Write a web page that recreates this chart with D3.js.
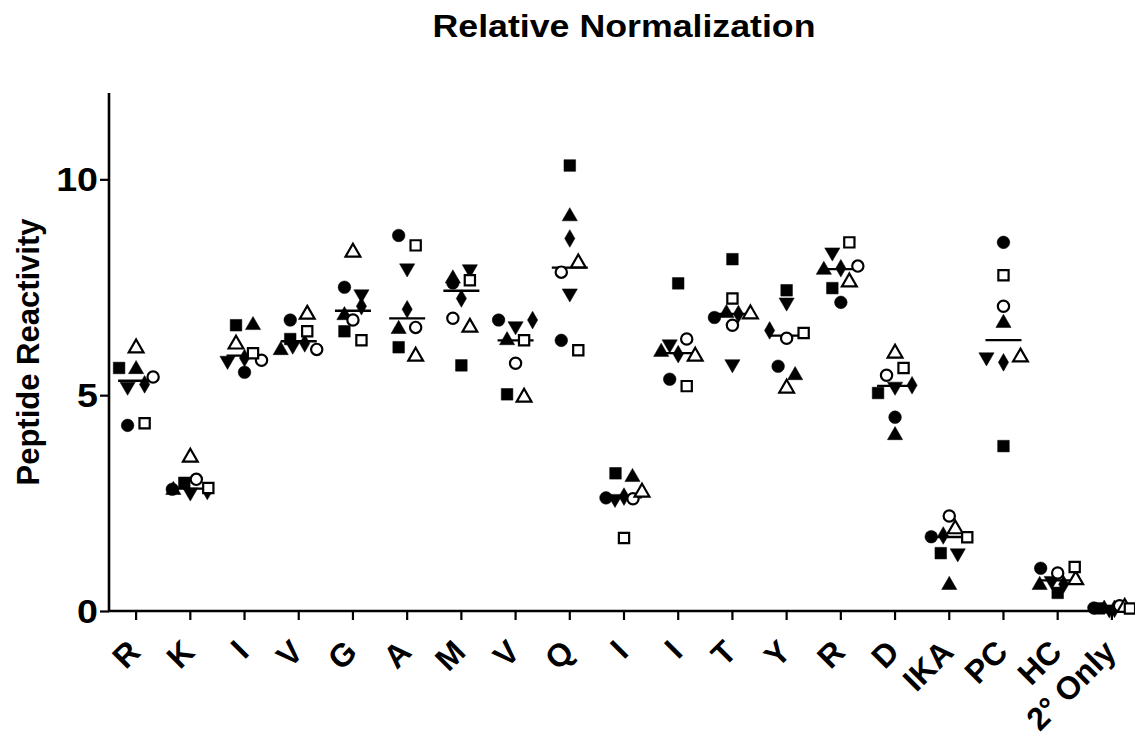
<!DOCTYPE html>
<html>
<head>
<meta charset="utf-8">
<script src="https://cdn.jsdelivr.net/npm/d3@7"></script>
<style>
  html, body { margin: 0; padding: 0; background: #fff; }
</style>
</head>
<body>
<svg id="chart" width="1135" height="738"></svg>
<script>
// ---- data ----
const categories = ["R","K","I","V","G","A","M","V","Q","I","I","T","Y","R","D","IKA","PC","HC","2° Only"];
const yTicks = [0, 5, 10];
const title = "Relative Normalization";
const yLabel = "Peptide Reactivity";

const filledSquare   = [5.63,2.97,6.62,6.30,6.48,6.11,5.69,5.02,10.32,3.19,7.59,8.15,7.43,7.48,5.05,1.34,3.82,0.42,0.06];
const filledTriangle = [5.60,2.80,6.62,6.04,6.85,6.53,7.70,6.27,9.14,3.10,6.00,6.90,5.46,7.90,4.07,0.60,6.67,0.60,0.05];
const filledDown     = [5.20,2.75,5.80,6.15,7.34,7.94,7.92,6.60,7.36,2.60,6.18,5.72,7.15,8.31,5.20,1.34,5.88,0.70,0.04];
const filledDiamond  = [5.25,2.78,5.86,6.20,7.06,6.99,7.24,6.74,8.63,2.65,5.95,6.88,6.50,7.94,5.23,1.75,5.76,0.62,0.05];
const filledCircle   = [4.30,2.82,5.53,6.74,7.50,8.70,7.60,6.74,6.27,2.62,5.37,6.80,5.67,7.15,4.49,1.72,8.54,0.99,0.07];
const openCircle     = [5.42,3.05,5.81,6.06,6.74,6.57,6.78,5.74,7.85,2.60,6.30,6.62,6.32,7.99,5.46,2.20,7.06,0.88,0.12];
const openTriangle   = [6.09,3.56,6.18,6.87,8.31,5.90,6.57,4.95,8.06,2.75,5.90,6.88,5.16,7.62,5.97,1.90,5.88,0.72,0.08];
const openSquare     = [4.35,2.85,5.97,6.48,6.27,8.47,7.66,6.27,6.04,1.69,5.21,7.24,6.44,8.54,5.63,1.71,7.78,1.02,0.06];

const seriesList = [
  {name:"filledCircle",   values: filledCircle,   shape: d3.symbolCircle,   size: 125, fill: true},
  {name:"filledSquare",   values: filledSquare,   shape: d3.symbolSquare,   size: 135, fill: true},
  {name:"filledTriangle", values: filledTriangle, shape: d3.symbolTriangle, size: 100, fill: true},
  {name:"filledDown",     values: filledDown,     shape: d3.symbolTriangle, size: 100, fill: true, rot: 180},
  {name:"filledDiamond",  values: filledDiamond,  shape: d3.symbolDiamond,  size: 90,  fill: true},
  {name:"openCircle",     values: openCircle,     shape: d3.symbolCircle,   size: 100, fill: false},
  {name:"openTriangle",   values: openTriangle,   shape: d3.symbolTriangle, size: 95,  fill: false},
  {name:"openSquare",     values: openSquare,     shape: d3.symbolSquare,   size: 105, fill: false}
];

// ---- layout ----
const FONT = "Liberation Sans";
const svg = d3.select("#chart");
const mLeft = 109, mRight = 1139, mTop = 93, mBottom = 611;

const x = d3.scaleBand().domain(d3.range(categories.length)).range([mLeft, mRight]).padding(0);
const y = d3.scaleLinear().domain([0, 12]).range([mBottom, mTop]);

function txt(sel) {
  return sel.attr("font-family", FONT).style("font-family", FONT)
    .attr("font-weight", "bold").attr("fill", "#000");
}

// title
txt(svg.append("text").attr("x", 624).attr("y", 37).attr("text-anchor","middle")
  .attr("font-size", 31).attr("textLength", 383).attr("lengthAdjust", "spacingAndGlyphs").text(title));

// y label
txt(svg.append("text").attr("transform", "translate(39,352) rotate(-90)").attr("text-anchor","middle")
  .attr("font-size", 31).text(yLabel));

// y axis
const yAxis = svg.append("g").attr("transform", `translate(${mLeft},0)`)
  .call(d3.axisLeft(y).tickValues(yTicks).tickSize(9).tickFormat(""));
yAxis.select(".domain").attr("stroke-width", 2.6).attr("d", `M0,${mTop}V${mBottom + 1}`);
yAxis.selectAll(".tick line").attr("stroke-width", 2.2);

const yLabels = svg.append("g");
yTicks.forEach(t => {
  txt(yLabels.append("text")
    .attr("transform", `translate(${mLeft - 11},${y(t)}) scale(1.14,1)`)
    .attr("text-anchor", "end").attr("dy", "0.36em").attr("font-size", 33)
    .text(d3.format("d")(t)));
});

// x axis
const xAxis = svg.append("g").attr("transform", `translate(0,${mBottom})`)
  .call(d3.axisBottom(x).tickSize(9).tickFormat(""));
xAxis.select(".domain").attr("stroke-width", 2.6).attr("d", `M${mLeft - 1},0H1135`);
xAxis.selectAll(".tick line").attr("stroke-width", 2.2);

const xLabels = svg.append("g");
categories.forEach((c, ci) => {
  const cx = x(ci) + x.bandwidth() / 2;
  txt(xLabels.append("text").attr("transform", `translate(${cx + 6},${mBottom + 43}) rotate(-45)`)
    .attr("text-anchor", "end").attr("font-size", 32).text(c));
});

// points with row-based horizontal spread
const plot = svg.append("g");
categories.forEach((c, ci) => {
  const cx = x(ci) + x.bandwidth() / 2;
  const pts = seriesList.map((s, si) => ({s, si, v: s.values[ci], py: y(s.values[ci])}));
  const sorted = pts.slice().sort((a, b) => a.py - b.py);
  const rows = [];
  sorted.forEach(p => {
    const r = rows[rows.length - 1];
    if (r && Math.abs(p.py - r[0].py) < 10) r.push(p); else rows.push([p]);
  });
  rows.forEach(r => {
    r.sort((a, b) => a.si - b.si);
    const n = r.length;
    const sp = n > 1 ? Math.min(17, 36 / (n - 1)) : 0;
    r.forEach((p, i) => { p.px = cx + (i - (n - 1) / 2) * sp; });
  });
  const med = d3.median(pts, p => p.v);
  plot.append("line").attr("x1", cx - 18).attr("x2", cx + 18)
    .attr("y1", y(med)).attr("y2", y(med)).attr("stroke", "#000").attr("stroke-width", 2.4);
  pts.forEach(p => {
    plot.append("path")
      .attr("d", d3.symbol().type(p.s.shape).size(p.s.size)())
      .attr("transform", `translate(${p.px},${p.py})` + (p.s.rot ? ` rotate(${p.s.rot})` : ""))
      .attr("fill", p.s.fill ? "#000" : "#fff")
      .attr("stroke", "#000")
      .attr("stroke-width", p.s.fill ? 0.5 : 2.2);
  });
});
</script>
</body>
</html>
